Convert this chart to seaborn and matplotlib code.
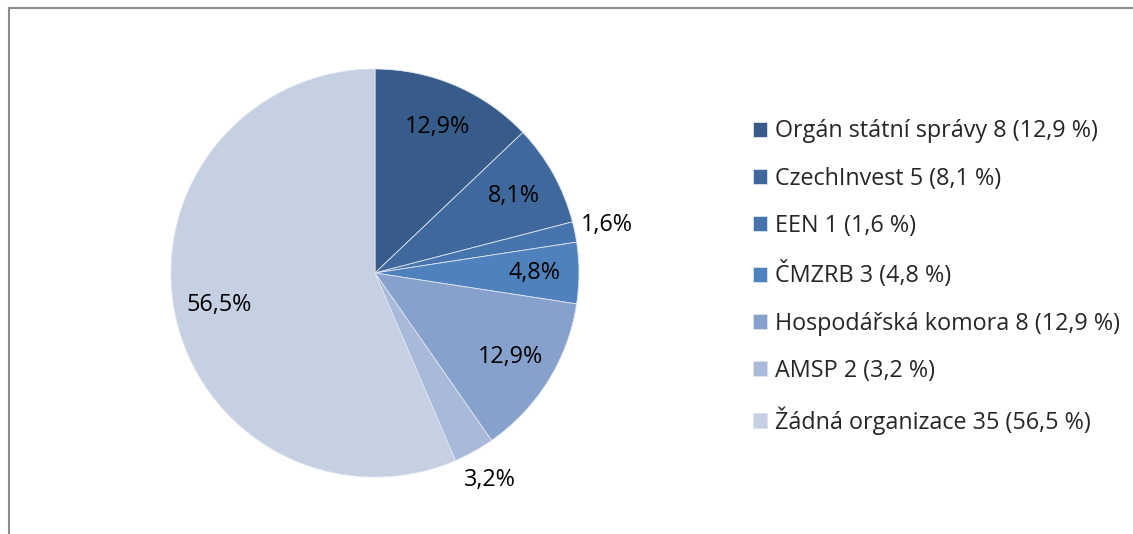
import numpy as np
import matplotlib
matplotlib.use("Agg")
import matplotlib.pyplot as plt
from matplotlib.lines import Line2D
import seaborn as sns

# data
names = ["Orgán státní správy", "CzechInvest", "EEN", "ČMZRB",
         "Hospodářská komora", "AMSP", "Žádná organizace"]
counts = [8, 5, 1, 3, 8, 2, 35]
pct_text = ["12,9", "8,1", "1,6", "4,8", "12,9", "3,2", "56,5"]
colors = ["#375C8A", "#3F699C", "#4674AD", "#4F81BD", "#87A1CD", "#A9B9D9", "#C5D0E3"]
outside = [False, False, True, False, False, True, False]

sns.set_theme(style="white")
plt.rcParams['font.family'] = ['Open Sans', 'DejaVu Sans']

W, H = 1133, 534
fs = 16.8
fig = plt.figure(figsize=(W / 100, H / 100), dpi=100)

# pie axes: centre (375, 273), radius ~204 px
cx, cy, r = 375, 273, 204
ax = fig.add_axes([(cx - r) / W, 1 - (cy + r) / H, 2 * r / W, 2 * r / H])
wedges, _ = ax.pie(counts, colors=colors, startangle=90, counterclock=False,
                   radius=1.0,
                   wedgeprops=dict(edgecolor="#DDE4EF", linewidth=0.6))
ax.set_xlim(-1, 1)
ax.set_ylim(-1, 1)
ax.set_aspect("auto")
ax.axis("off")

# percentage labels
total = sum(counts)
cum = 0
for c, t, out in zip(counts, pct_text, outside):
    mid = 90 - 360 * (cum + c / 2) / total
    cum += c
    d = 1.16 if out else 0.78
    x, y = d * np.cos(np.radians(mid)), d * np.sin(np.radians(mid))
    ax.text(x, y, t + "%", ha="center", va="center", fontsize=fs, color="black")

labels = [f"{n} {c} ({p} %)" for n, c, p in zip(names, counts, pct_text)]
fig.legend(wedges, labels, loc="upper left",
           bbox_to_anchor=(744 / W, 1 - 110 / H),
           frameon=False, fontsize=fs, labelspacing=1.0,
           handlelength=0.6, handleheight=0.6, handletextpad=0.32,
           borderaxespad=0)

# grey outer frame (left and top edges visible)
fx = 8.5 / W
fy = 1 - 7.5 / H
fig.add_artist(Line2D([fx, fx], [0, fy], transform=fig.transFigure, color="#8C8C8C", lw=1.5))
fig.add_artist(Line2D([fx, 1], [fy, fy], transform=fig.transFigure, color="#8C8C8C", lw=1.5))

fig.savefig("out.png", dpi=100)
